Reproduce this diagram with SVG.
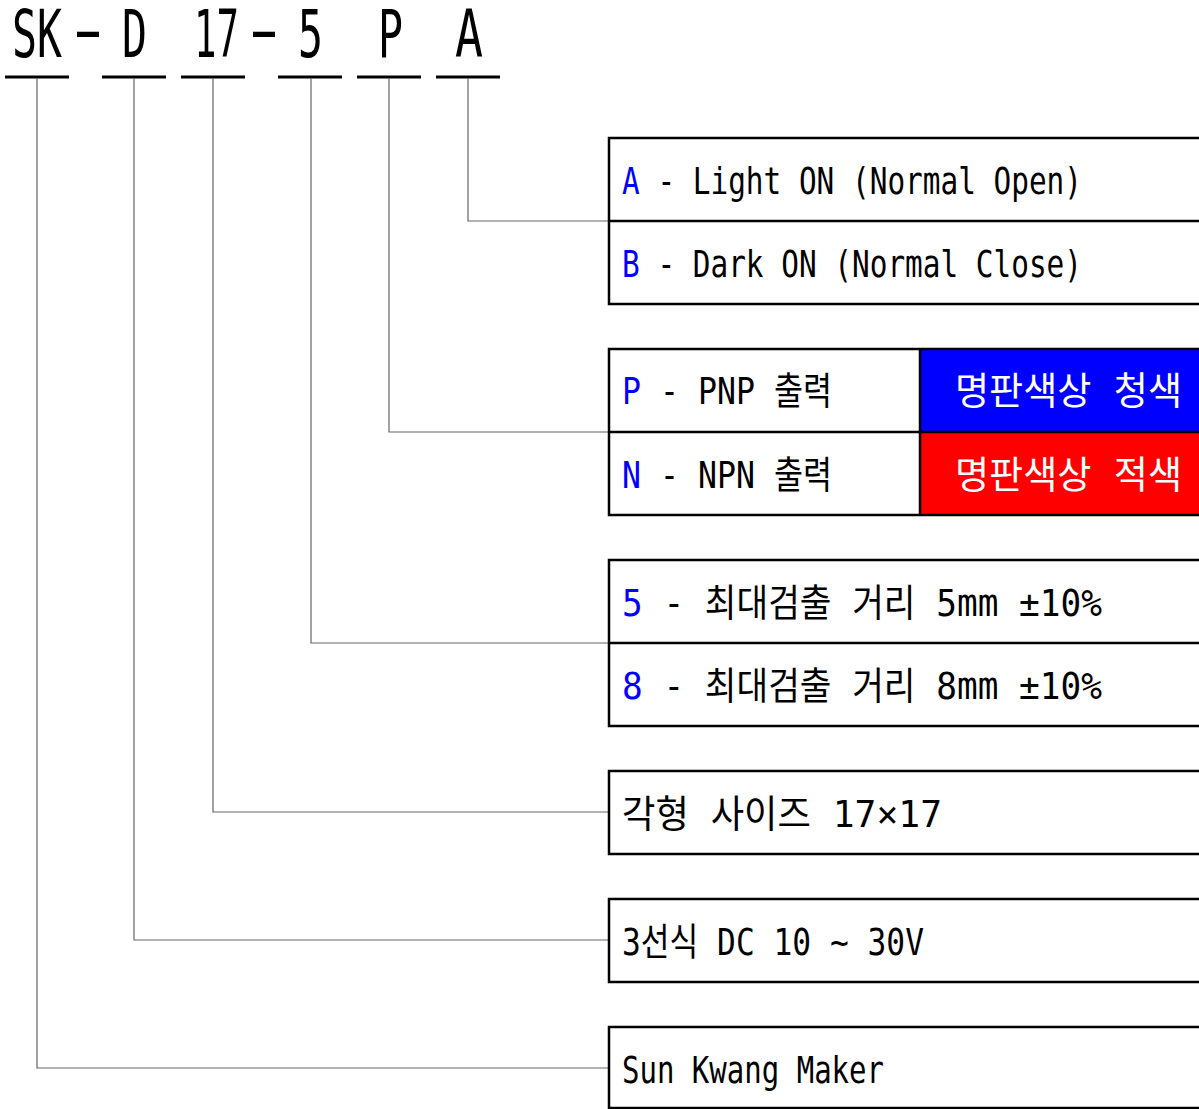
<svg xmlns="http://www.w3.org/2000/svg" width="1199" height="1109" viewBox="0 0 1199 1109">
<style>
.t{font-family:"DejaVu Sans Mono","Noto Sans CJK KR",monospace;font-size:38px;fill:#000}
.h{font-family:"DejaVu Sans Mono","Noto Sans CJK KR",monospace;font-size:66px;fill:#000}
.b{fill:#0000ff}
.w{fill:#fff}
.box{fill:none;stroke:#000;stroke-width:2.5}
.ul{stroke:#000;stroke-width:3}
.c{fill:none;stroke:#666;stroke-width:1.2}
</style>
<rect width="1199" height="1109" fill="#fff"/>
<g id="title">
<text class="h" x="12" y="57" textLength="50" lengthAdjust="spacingAndGlyphs">SK</text>
<text class="h" x="62" y="52" textLength="52" lengthAdjust="spacingAndGlyphs">-</text>
<text class="h" x="122" y="57" textLength="25" lengthAdjust="spacingAndGlyphs">D</text>
<text class="h" x="194" y="57" textLength="45" lengthAdjust="spacingAndGlyphs">17</text>
<text class="h" x="238" y="52" textLength="52" lengthAdjust="spacingAndGlyphs">-</text>
<text class="h" x="298" y="57" textLength="25" lengthAdjust="spacingAndGlyphs">5</text>
<text class="h" x="378" y="57" textLength="25" lengthAdjust="spacingAndGlyphs">P</text>
<text class="h" x="455" y="57" textLength="28" lengthAdjust="spacingAndGlyphs">A</text>
<line class="ul" x1="5" y1="77" x2="69" y2="77"/>
<line class="ul" x1="102" y1="77" x2="166" y2="77"/>
<line class="ul" x1="181" y1="77" x2="245" y2="77"/>
<line class="ul" x1="278" y1="77" x2="342" y2="77"/>
<line class="ul" x1="357" y1="77" x2="421" y2="77"/>
<line class="ul" x1="436" y1="77" x2="500" y2="77"/>
</g>
<g id="connectors">
<polyline class="c" points="468,78 468,221 609,221"/>
<polyline class="c" points="389,78 389,432 609,432"/>
<polyline class="c" points="311,78 311,643 609,643"/>
<polyline class="c" points="213,78 213,812 609,812"/>
<polyline class="c" points="134,78 134,940 609,940"/>
<polyline class="c" points="37,78 37,1068 609,1068"/>
</g>
<g id="box-output-mode">
<rect class="box" x="609" y="138" width="620" height="166"/>
<line class="box" x1="609" y1="221" x2="1210" y2="221"/>
<text class="t" x="622" y="194" textLength="460" lengthAdjust="spacingAndGlyphs"><tspan class="b">A</tspan> - Light ON (Normal Open)</text>
<text class="t" x="622" y="277" textLength="460" lengthAdjust="spacingAndGlyphs"><tspan class="b">B</tspan> - Dark ON (Normal Close)</text>
</g>
<g id="box-output-type">
<rect x="920" y="349" width="290" height="83" fill="#0000ff"/>
<rect x="920" y="432" width="290" height="83" fill="#ff0000"/>
<rect class="box" x="609" y="349" width="620" height="166"/>
<line class="box" x1="609" y1="432" x2="1210" y2="432"/>
<line class="box" x1="920" y1="349" x2="920" y2="515"/>
<text class="t" x="622" y="404" textLength="210" lengthAdjust="spacingAndGlyphs"><tspan class="b">P</tspan> - PNP 출력</text>
<text class="t" x="622" y="488" textLength="210" lengthAdjust="spacingAndGlyphs"><tspan class="b">N</tspan> - NPN 출력</text>
<text class="t w" x="955" y="404" textLength="227" lengthAdjust="spacingAndGlyphs">명판색상 청색</text>
<text class="t w" x="955" y="488" textLength="227" lengthAdjust="spacingAndGlyphs">명판색상 적색</text>
</g>
<g id="box-distance">
<rect class="box" x="609" y="560" width="620" height="166"/>
<line class="box" x1="609" y1="643" x2="1210" y2="643"/>
<text class="t" x="622" y="616" textLength="480" lengthAdjust="spacingAndGlyphs"><tspan class="b">5</tspan> - 최대검출 거리 5mm ±10%</text>
<text class="t" x="622" y="699" textLength="480" lengthAdjust="spacingAndGlyphs"><tspan class="b">8</tspan> - 최대검출 거리 8mm ±10%</text>
</g>
<g id="box-size">
<rect class="box" x="609" y="771" width="620" height="83"/>
<text class="t" x="622" y="827" textLength="320" lengthAdjust="spacingAndGlyphs">각형 사이즈 17×17</text>
</g>
<g id="box-power">
<rect class="box" x="609" y="899" width="620" height="83"/>
<text class="t" x="622" y="955" textLength="302" lengthAdjust="spacingAndGlyphs">3선식 DC 10 ~ 30V</text>
</g>
<g id="box-maker">
<rect class="box" x="609" y="1027" width="620" height="81"/>
<text class="t" x="622" y="1083" textLength="262" lengthAdjust="spacingAndGlyphs">Sun Kwang Maker</text>
</g>
</svg>
